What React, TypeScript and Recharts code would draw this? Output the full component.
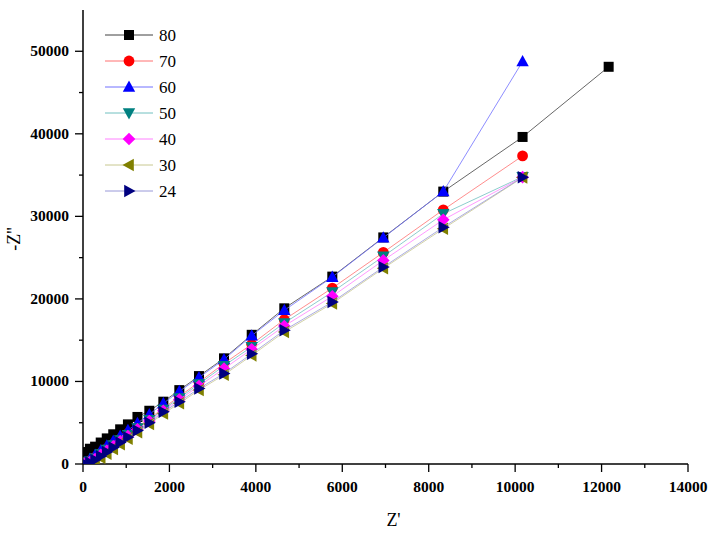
import React from "react";
import { ScatterChart, Scatter, XAxis, YAxis, Label } from "recharts";

const zReal = [50, 160, 280, 410, 550, 700, 860, 1040, 1260, 1535, 1859, 2229, 2684, 3263, 3904, 4658, 5769, 6949, 8337, 10172, 12164];

const s80 = [1450, 1850, 2100, 2600, 3100, 3600, 4200, 4800, 5700, 6450, 7550, 8950, 10650, 12800, 15650, 18860, 22700, 27450, 33000, 39620, 48120];
const s70 = [100, 400, 800, 1300, 1850, 2400, 3000, 3700, 4500, 5500, 6750, 8200, 9900, 12175, 14508, 17494, 21315, 25631, 30793, 37320, null];
const s60 = [200, 600, 1100, 1650, 2200, 2800, 3400, 4100, 4950, 6000, 7350, 8800, 10480, 12660, 15550, 18619, 22645, 27408, 33006, 48760, null];
const s50 = [80, 330, 700, 1200, 1750, 2300, 2900, 3550, 4350, 5350, 6600, 8000, 9700, 11900, 14200, 17083, 20832, 25147, 30310, 34800, null];
const s40 = [50, 250, 600, 1100, 1600, 2150, 2750, 3400, 4200, 5200, 6450, 7800, 9450, 11550, 13900, 16720, 20311, 24664, 29584, 34750, null];
const s30 = [null, 0, 300, 750, 1250, 1800, 2400, 3050, 3850, 4850, 6100, 7350, 8950, 10800, 13150, 16000, 19450, 23700, 28500, 34700, null];
const s24 = [20, 180, 500, 950, 1450, 2000, 2600, 3250, 4050, 5000, 6320, 7530, 9150, 10966, 13350, 16200, 19622, 23854, 28690, 34740, null];

const seriesNames = ["80", "70", "60", "50", "40", "30", "24"];
const seriesValues = [s80, s70, s60, s50, s40, s30, s24];
const markerKinds = ["square", "circle", "up", "down", "diamond", "left", "right"];
const markerColors = ["#000000", "#ff0000", "#0000ff", "#008080", "#ff00ff", "#808000", "#000080"];
const lineColors = ["#404040", "#ff7070", "#7070ff", "#70c0c0", "#ff80ff", "#c8c890", "#9898d8"];

const xTicks = [0, 1000, 2000, 3000, 4000, 5000, 6000, 7000, 8000, 9000, 10000, 11000, 12000, 13000, 14000];
const yTicks = [0, 5000, 10000, 15000, 20000, 25000, 30000, 35000, 40000, 45000, 50000];

const FONT = "'Times New Roman', 'Liberation Serif', serif";

function Marker({ kind, cx, cy, fill }: { kind: string; cx: number; cy: number; fill: string }) {
  if (cx == null || cy == null) return null;
  switch (kind) {
    case "square":
      return <rect x={cx - 5} y={cy - 5} width={10} height={10} fill={fill} />;
    case "circle":
      return <circle cx={cx} cy={cy} r={5.4} fill={fill} />;
    case "up":
      return <path d={`M${cx},${cy - 6.5} L${cx + 6.2},${cy + 4.8} L${cx - 6.2},${cy + 4.8} Z`} fill={fill} />;
    case "down":
      return <path d={`M${cx},${cy + 6.5} L${cx + 6.2},${cy - 4.8} L${cx - 6.2},${cy - 4.8} Z`} fill={fill} />;
    case "diamond":
      return <path d={`M${cx},${cy - 6.3} L${cx + 6.3},${cy} L${cx},${cy + 6.3} L${cx - 6.3},${cy} Z`} fill={fill} />;
    case "left":
      return <path d={`M${cx - 6.5},${cy} L${cx + 4.8},${cy - 6.2} L${cx + 4.8},${cy + 6.2} Z`} fill={fill} />;
    case "right":
      return <path d={`M${cx + 6.5},${cy} L${cx - 4.8},${cy - 6.2} L${cx - 4.8},${cy + 6.2} Z`} fill={fill} />;
    default:
      return null;
  }
}

const XTick = (props: any) => {
  const { x, y, payload } = props;
  const major = payload.value % 2000 === 0;
  return (
    <g>
      <line x1={x} y1={y} x2={x} y2={y + (major ? 8 : 4)} stroke="#000" strokeWidth={1.3} />
      {major && (
        <text x={x} y={y + 28} textAnchor="middle" fontFamily={FONT} fontWeight={700} fontSize={15.5} fill="#000">
          {payload.value}
        </text>
      )}
    </g>
  );
};

const YTick = (props: any) => {
  const { x, y, payload } = props;
  const major = payload.value % 10000 === 0;
  return (
    <g>
      <line x1={x} y1={y} x2={x - (major ? 8 : 4)} y2={y} stroke="#000" strokeWidth={1.3} />
      {major && (
        <text x={x - 14} y={y + 5} textAnchor="end" fontFamily={FONT} fontWeight={700} fontSize={15.5} fill="#000">
          {payload.value}
        </text>
      )}
    </g>
  );
};

export default function App() {
  const datasets = seriesValues.map((ys) =>
    zReal.map((x, i) => ({ x, y: ys[i] })).filter((p) => p.y !== null && p.y !== undefined)
  );

  return (
    <div style={{ position: "absolute", left: 0, top: 0, width: 718, height: 536, background: "#fff" }}>
      <ScatterChart width={718} height={536} margin={{ top: 10, right: 30, bottom: 0, left: 0 }}>
        <XAxis
          xAxisId="main"
          type="number"
          dataKey="x"
          domain={[0, 14000]}
          ticks={xTicks}
          interval={0}
          height={72}
          tickSize={0}
          tickMargin={0}
          tickLine={false}
          tick={<XTick />}
          axisLine={{ stroke: "#000", strokeWidth: 1.5 }}
          allowDataOverflow
        >
          <Label
            content={(p: any) => {
              const vb = p.viewBox || {};
              return (
                <text x={vb.x + vb.width / 2 + 8} y={vb.y + 62} textAnchor="middle" fontFamily={FONT} fontSize={18} fill="#000">
                  Z'
                </text>
              );
            }}
          />
        </XAxis>
        <XAxis
          xAxisId="top"
          orientation="top"
          type="number"
          dataKey="x"
          domain={[0, 14000]}
          height={0}
          tick={false}
          tickLine={false}
          axisLine={{ stroke: "#000", strokeWidth: 1.5 }}
          allowDataOverflow
        />
        <YAxis
          yAxisId="main"
          type="number"
          dataKey="y"
          domain={[0, 55000]}
          ticks={yTicks}
          interval={0}
          width={83}
          tickSize={0}
          tickMargin={0}
          tickLine={false}
          tick={<YTick />}
          axisLine={{ stroke: "#000", strokeWidth: 1.5 }}
          allowDataOverflow
        >
          <Label
            content={(p: any) => {
              const vb = p.viewBox || {};
              const cx = vb.x + 14;
              const cy = vb.y + vb.height / 2 + 2;
              return (
                <text x={cx} y={cy} transform={`rotate(-90 ${cx} ${cy})`} textAnchor="middle" dominantBaseline="central" fontFamily={FONT} fontSize={18} fill="#000">
                  -Z''
                </text>
              );
            }}
          />
        </YAxis>
        <YAxis
          yAxisId="right"
          orientation="right"
          type="number"
          dataKey="y"
          domain={[0, 55000]}
          width={0}
          tick={false}
          tickLine={false}
          axisLine={{ stroke: "#000", strokeWidth: 1.5 }}
          allowDataOverflow
        />
        {datasets.map((data, i) => (
          <Scatter
            key={seriesNames[i]}
            name={seriesNames[i]}
            data={data}
            xAxisId="main"
            yAxisId="main"
            isAnimationActive={false}
            line={{ stroke: lineColors[i], strokeWidth: 0.8 }}
            lineType="joint"
            shape={(p: any) => <Marker kind={markerKinds[i]} cx={p.cx} cy={p.cy} fill={markerColors[i]} />}
          />
        ))}
      </ScatterChart>
      <svg width={718} height={536} style={{ position: "absolute", left: 0, top: 0, pointerEvents: "none" }}>
        {seriesNames.map((name, i) => {
          const y = 35 + i * 26;
          return (
            <g key={name}>
              <line x1={105} y1={y} x2={153} y2={y} stroke={lineColors[i]} strokeWidth={1} />
              <Marker kind={markerKinds[i]} cx={129} cy={y} fill={markerColors[i]} />
              <text x={159} y={y + 6} fontFamily={FONT} fontSize={17} fill="#000">
                {name}
              </text>
            </g>
          );
        })}
      </svg>
    </div>
  );
}
